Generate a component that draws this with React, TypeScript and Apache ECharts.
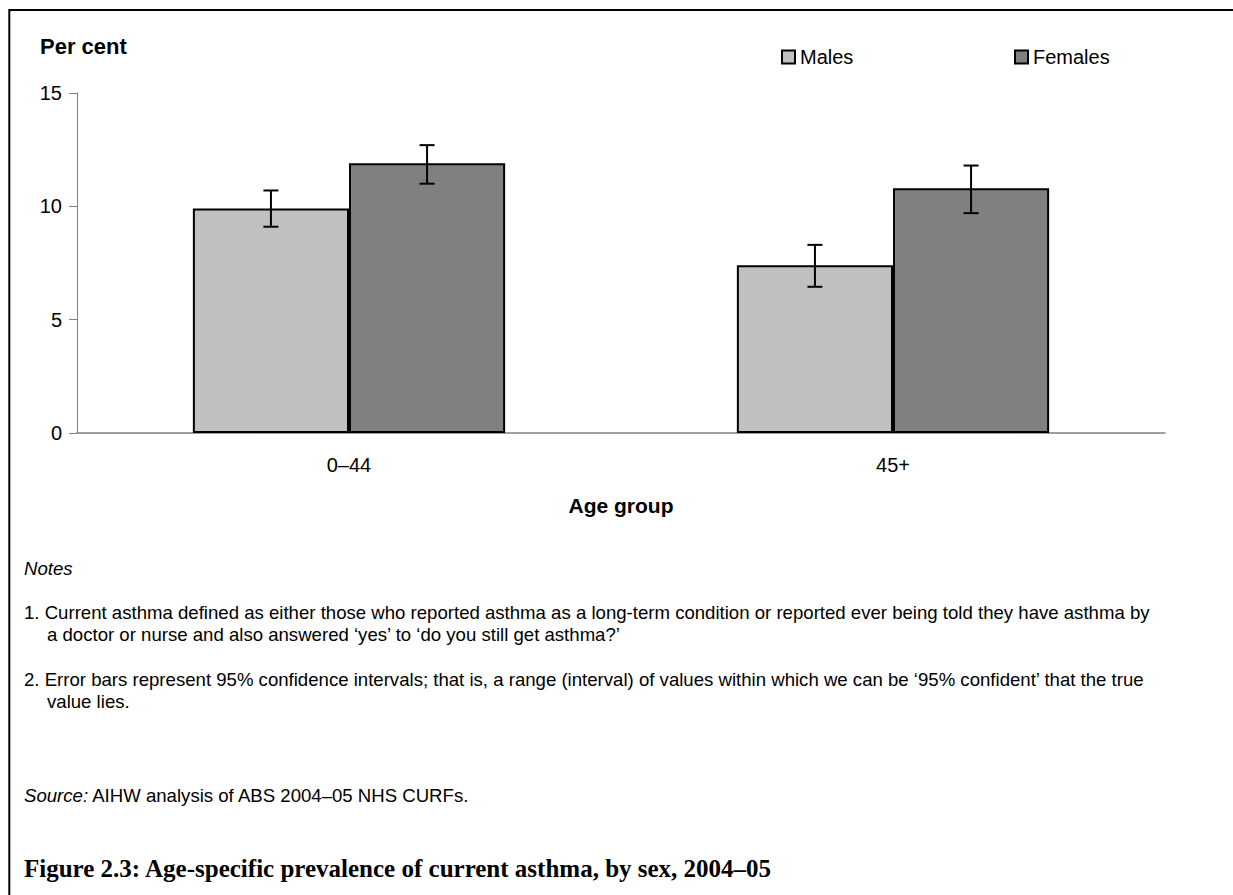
import React, { useEffect, useRef } from "react";
import * as echarts from "echarts";

// ---- data ----
const categories = ["0–44", "45+"];
const seriesNames = ["Males", "Females"];
const malesValues = [9.9, 7.4];
const femalesValues = [11.9, 10.8];
const malesLower = [9.1, 6.45];
const malesUpper = [10.7, 8.3];
const femalesLower = [11.0, 9.7];
const femalesUpper = [12.7, 11.8];
const yMin = 0;
const yMax = 15;
const yInterval = 5;

const yAxisTitle = "Per cent";
const xAxisTitle = "Age group";
const notesHeading = "Notes";
const note1Lines = [
  "1. Current asthma defined as either those who reported asthma as a long-term condition or reported ever being told they have asthma by",
  "a doctor or nurse and also answered ‘yes’ to ‘do you still get asthma?’",
];
const note2Lines = [
  "2. Error bars represent 95% confidence intervals; that is, a range (interval) of values within which we can be ‘95% confident’ that the true",
  "value lies.",
];
const sourceLabel = "Source:";
const sourceText = " AIHW analysis of ABS 2004–05 NHS CURFs.";
const figureTitle = "Figure 2.3: Age-specific prevalence of current asthma, by sex, 2004–05";

const SANS = 'Arial, "Liberation Sans", Helvetica, sans-serif';
const SERIF = '"Liberation Serif", "Times New Roman", serif';
const BAR_CAT_GAP = 0.426;

function makeErrorRender(sign: number) {
  return (params: any, api: any) => {
    const cat = api.value(0);
    const low = api.coord([cat, api.value(1)]);
    const high = api.coord([cat, api.value(2)]);
    const catW = api.size([1, 0])[0];
    const barW = (catW * (1 - BAR_CAT_GAP)) / 2;
    const x = low[0] + (sign * barW) / 2;
    const cap = 7.5;
    const st = { stroke: "#000", lineWidth: 2 };
    return {
      type: "group",
      children: [
        { type: "line", shape: { x1: x, y1: high[1], x2: x, y2: low[1] }, style: st },
        { type: "line", shape: { x1: x - cap, y1: high[1], x2: x + cap, y2: high[1] }, style: st },
        { type: "line", shape: { x1: x - cap, y1: low[1], x2: x + cap, y2: low[1] }, style: st },
      ],
    };
  };
}

export default function App() {
  const ref = useRef<HTMLDivElement>(null);
  useEffect(() => {
    document.body.style.margin = "0";
    document.documentElement.style.overflow = "hidden";
    const chart = echarts.init(ref.current!, null, { renderer: "svg" });
    const noteStyle = { fontSize: 18.6, fontFamily: SANS, fill: "#000" };
    const legendBase = {
      top: 47,
      padding: 0,
      icon: "rect",
      itemWidth: 13,
      itemHeight: 13,
      textStyle: { fontSize: 20, color: "#000", fontFamily: SANS },
    };
    const option: any = {
      animation: false,
      backgroundColor: "#fff",
      grid: { left: 77, right: 68, top: 93, bottom: 462, containLabel: false },
      legend: [
        { ...legendBase, data: [seriesNames[0]], left: 781 },
        { ...legendBase, data: [seriesNames[1]], left: 1014 },
      ],
      xAxis: {
        type: "category",
        data: categories,
        axisLine: { lineStyle: { color: "#808080", width: 1.5 } },
        axisTick: { show: false },
        axisLabel: { fontSize: 20, color: "#000", fontFamily: SANS, margin: 22 },
        name: xAxisTitle,
        nameLocation: "middle",
        nameGap: 62,
        nameTextStyle: { fontSize: 21, fontWeight: "bold", color: "#000", fontFamily: SANS },
      },
      yAxis: {
        type: "value",
        min: yMin,
        max: yMax,
        interval: yInterval,
        splitLine: { show: false },
        axisLine: { show: true, lineStyle: { color: "#808080", width: 1 } },
        axisTick: { show: true, length: 8, lineStyle: { color: "#808080" } },
        axisLabel: { fontSize: 20, color: "#000", fontFamily: SANS, margin: 15 },
      },
      series: [
        {
          name: seriesNames[0],
          type: "bar",
          data: malesValues,
          barGap: "0%",
          barCategoryGap: BAR_CAT_GAP * 100 + "%",
          itemStyle: { color: "#C0C0C0", borderColor: "#000", borderWidth: 2 },
        },
        {
          name: seriesNames[1],
          type: "bar",
          data: femalesValues,
          barGap: "0%",
          barCategoryGap: BAR_CAT_GAP * 100 + "%",
          itemStyle: { color: "#808080", borderColor: "#000", borderWidth: 2 },
        },
        {
          name: "Males CI",
          type: "custom",
          renderItem: makeErrorRender(-1),
          data: categories.map((_, i) => [i, malesLower[i], malesUpper[i]]),
          encode: { x: 0, y: [1, 2] },
          z: 5,
        },
        {
          name: "Females CI",
          type: "custom",
          renderItem: makeErrorRender(1),
          data: categories.map((_, i) => [i, femalesLower[i], femalesUpper[i]]),
          encode: { x: 0, y: [1, 2] },
          z: 5,
        },
      ],
      graphic: [
        {
          type: "polyline",
          silent: true,
          shape: { points: [[9.3, 1000], [9.3, 10], [1400, 10]] },
          style: { fill: "none", stroke: "#000", lineWidth: 2 },
        },
        {
          type: "text",
          x: 40,
          y: 46,
          style: { text: yAxisTitle, fontSize: 22, fontWeight: "bold", fontFamily: SANS, fill: "#000", verticalAlign: "middle" },
        },
        {
          type: "text",
          x: 24,
          y: 568,
          style: { text: notesHeading, ...noteStyle, fontStyle: "italic", verticalAlign: "middle" },
        },
        {
          type: "text",
          x: 24,
          y: 612,
          style: { text: note1Lines[0], ...noteStyle, verticalAlign: "middle" },
        },
        {
          type: "text",
          x: 47,
          y: 634,
          style: { text: note1Lines[1], ...noteStyle, verticalAlign: "middle" },
        },
        {
          type: "text",
          x: 24,
          y: 679,
          style: { text: note2Lines[0], ...noteStyle, verticalAlign: "middle" },
        },
        {
          type: "text",
          x: 47,
          y: 701,
          style: { text: note2Lines[1], ...noteStyle, verticalAlign: "middle" },
        },
        {
          type: "text",
          x: 24,
          y: 795,
          style: {
            text: "{i|" + sourceLabel + "}" + sourceText,
            ...noteStyle,
            verticalAlign: "middle",
            rich: { i: { fontStyle: "italic", fontSize: 18.6, fontFamily: SANS } },
          },
        },
        {
          type: "text",
          x: 24,
          y: 868,
          style: {
            text: figureTitle,
            fontSize: 25,
            fontWeight: "bold",
            fontFamily: SERIF,
            fill: "#000",
            verticalAlign: "middle",
          },
        },
      ],
    };
    chart.setOption(option);
    return () => chart.dispose();
  }, []);
  return <div ref={ref} style={{ width: 1233, height: 895 }} />;
}
